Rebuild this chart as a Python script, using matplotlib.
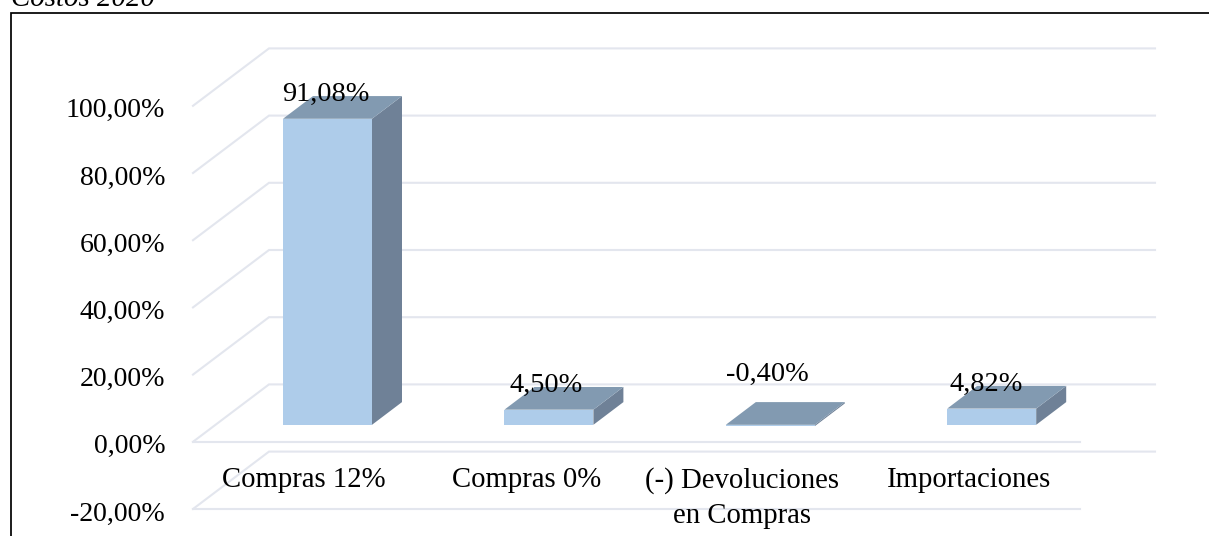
import matplotlib
matplotlib.use("Agg")
import matplotlib.pyplot as plt
from matplotlib.patches import Polygon, Rectangle
from matplotlib.lines import Line2D
from matplotlib.transforms import ScaledTranslation

plt.rcParams['font.family'] = ['Liberation Serif', 'DejaVu Serif']

categories = ['Compras 12%', 'Compras 0%', '(-) Devoluciones\nen Compras', 'Importaciones']
values = [91.08, 4.50, -0.40, 4.82]
value_labels = ['91,08%', '4,50%', '-0,40%', '4,82%']
y_ticks = [-20, 0, 20, 40, 60, 80, 100]
y_tick_labels = ['-20,00%', '0,00%', '20,00%', '40,00%', '60,00%', '80,00%', '100,00%']

W, H = 1209, 536
FRONT, TOP, SIDE, GRID = '#AECCEA', '#829AB1', '#6F8197', '#E3E6EE'
FS = 20.1

fig = plt.figure(figsize=(W / 100, H / 100), dpi=100)
L, R, B, T = 193, 1155, 509, 48
ax = fig.add_axes([L / W, 1 - B / H, (R - L) / W, (B - T) / H])
px_x = 221.4
px_y = 3.36
x0 = -(305 - L) / px_x
ax.set_xlim(x0, x0 + (R - L) / px_x)
ax.set_ylim(-20, -20 + (B - T) / px_y)
for s in ax.spines.values():
    s.set_visible(False)

# oblique projection offsets for the depth axis, in data units
DX, DY = 76 / px_x, 57.4 / px_y
front_end = x0 + (1080 - L) / px_x
LW = 1.5

for v in y_ticks:
    ax.plot([x0, x0 + DX, x0 + (R - L) / px_x], [v, v + DY, v + DY],
            color=GRID, lw=LW, clip_on=False, zorder=1, solid_joinstyle='miter')
for v in [-20, 0]:
    ax.plot([x0, front_end], [v, v], color=GRID, lw=LW, clip_on=False, zorder=1)

# bars
d0_x, d0_y = 22.5 / px_x, 17 / px_y
d_x, d_y = 30 / px_x, 22.7 / px_y
bw = 89 / px_x / 2
label_dx = [-1.5, -2.5, -3, -6]
for i, (v, lab) in enumerate(zip(values, value_labels)):
    cx = i + d0_x
    xl, xr = cx - bw, cx + bw
    top = max(v, 0)
    low = min(v, 0)
    y_base = d0_y
    ax.add_patch(Polygon([(xr, y_base + low), (xr + d_x, y_base + low + d_y),
                          (xr + d_x, y_base + top + d_y), (xr, y_base + top)],
                         fc=SIDE, ec='none', zorder=3))
    ax.add_patch(Polygon([(xl, y_base + top), (xr, y_base + top),
                          (xr + d_x, y_base + top + d_y), (xl + d_x, y_base + top + d_y)],
                         fc=TOP, ec='none', zorder=3))
    ax.add_patch(Rectangle((xl, y_base + low), 2 * bw, top - low, fc=FRONT, ec='none', zorder=4))
    off = 24.5 if v >= 0 else 50.5
    ax.annotate(lab, (cx, y_base + top), xytext=(label_dx[i] * 0.72, off * 0.72),
                textcoords='offset points', ha='center', va='center',
                fontsize=FS + 0.3, color='black', zorder=6, annotation_clip=False)

ax.set_yticks(y_ticks, y_tick_labels)
ax.set_xticks(range(len(categories)), categories)
ax.tick_params(axis='y', length=0, pad=20, labelsize=FS, labelcolor='black')
ax.tick_params(axis='x', length=0, pad=-30, labelsize=FS + 0.6, labelcolor='black')
nudge = ScaledTranslation(0, -2 / 100, fig.dpi_scale_trans)
for t in ax.get_yticklabels():
    t.set_transform(t.get_transform() + nudge)
cat_dx = [-1.5, 0, -5.5, 0]
for t, dx in zip(ax.get_xticklabels(), cat_dx):
    t.set_transform(t.get_transform() + ScaledTranslation(dx / 100, 0, fig.dpi_scale_trans))
    t.set_zorder(6)
    t.set_linespacing(1.42)

# outer frame (open at the bottom and right)
fx = lambda p: p / W
fy = lambda p: 1 - p / H
fig.add_artist(Line2D([fx(10.5), fx(10.5), fx(1209)],
                      [fy(536), fy(13), fy(13)], color='black', lw=1.25,
                      solid_joinstyle='miter'))

fig.text(fx(11), fy(5.5), 'Costos 2020', fontsize=20.8, style='italic', color='black',
         ha='left', va='baseline')

fig.savefig('out.png', dpi=100)
